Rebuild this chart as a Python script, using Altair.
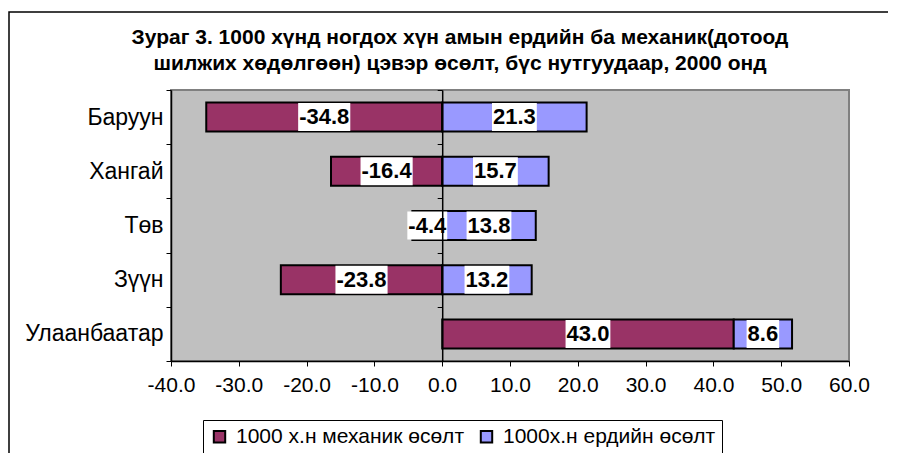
import altair as alt
import pandas as pd

# ---- data ----
regions = ["Баруун", "Хангай", "Төв", "Зүүн", "Улаанбаатар"]
mechanical = [-34.8, -16.4, -4.4, -23.8, 43.0]
natural = [21.3, 15.7, 13.8, 13.2, 8.6]
series_names = ["1000 х.н механик өсөлт", "1000х.н ердийн өсөлт"]
series_colors = ["#993366", "#9999FF"]
x_ticks = [-40, -30, -20, -10, 0, 10, 20, 30, 40, 50, 60]
title_lines = [
    "Зураг 3. 1000 хүнд ногдох хүн амын ердийн ба механик(дотоод",
    "шилжих хөдөлгөөн) цэвэр өсөлт, бүс нутгуудаар, 2000 онд",
]

rows = []
for r, m, n in zip(regions, mechanical, natural):
    rows.append({"region": r, "series": series_names[0], "order": 0, "value": m})
    rows.append({"region": r, "series": series_names[1], "order": 1, "value": n})
df = pd.DataFrame(rows)

W, H = 678, 271
FONT = "Liberation Sans"
LBL = 22  # data label font size
px_per_unit = W / (x_ticks[-1] - x_ticks[0])
zero_offset = -(0 - x_ticks[0]) * px_per_unit

xscale = alt.Scale(domain=[x_ticks[0], x_ticks[-1]], nice=False, zero=False)
yscale = alt.Scale(domain=regions, paddingInner=0, paddingOuter=0)

x_axis = alt.Axis(values=x_ticks, format=".1f", title=None, grid=False,
                  labelFontSize=21, labelFont=FONT, labelColor="black",
                  labelExpr="replace(datum.label, '\u2212', '-')",
                  domainColor="black", domainWidth=1.5, tickColor="black",
                  tickSize=5, labelPadding=8, labelFlush=False)

base = alt.Chart(df).transform_stack(
    stack="value", groupby=["region"], as_=["v0", "v1"],
    sort=[alt.SortField("order", order="ascending")],
).transform_calculate(
    mid="(datum.v0 + datum.v1) / 2",
    label="replace(format(datum.value, '.1f'), '\u2212', '-')",
).transform_calculate(
    tw=f"{LBL}*(0.556*(length(datum.label)-1) + 0.278 - (datum.value < 0 ? 0.223 : 0)) + 2",
).transform_calculate(
    lo=f"datum.mid - datum.tw / (2*{px_per_unit})",
    hi=f"datum.mid + datum.tw / (2*{px_per_unit})",
)

frame = alt.Chart(df).mark_rect(fill="white", fillOpacity=0, stroke="black", strokeWidth=1.5).encode(
    x=alt.value(-162), x2=alt.value(W + 200), y=alt.value(-78), y2=alt.value(H + 250)
).transform_filter("datum.order == 0 && datum.region == 'Баруун'")

bars = base.mark_bar(size=29, stroke="black", strokeWidth=2).encode(
    y=alt.Y("region:N", sort=regions, scale=yscale,
            axis=alt.Axis(title=None, orient="left", labelFontSize=23, labelFont=FONT,
                          labelColor="black", domainColor="black", domainWidth=1.5,
                          tickColor="black", tickSize=5, tickBand="extent", labelPadding=3)),
    x=alt.X("v0:Q", scale=xscale, axis=x_axis),
    x2="v1:Q",
    color=alt.Color("series:N", scale=alt.Scale(domain=series_names, range=series_colors),
                    legend=alt.Legend(title=None, orient="none", legendX=32, legendY=330,
                                      direction="horizontal", fillColor="white",
                                      strokeColor="black", padding=6,
                                      labelFontSize=21, labelFont=FONT, labelColor="black",
                                      labelLimit=400,
                                      symbolType="square", symbolSize=130,
                                      symbolStrokeColor="black", symbolStrokeWidth=2,
                                      symbolOpacity=1, labelOffset=6, columnPadding=12)),
    order=alt.Order("order:Q"),
)

boxes = base.mark_bar(size=28, color="white").encode(
    y=alt.Y("region:N", sort=regions, scale=yscale, axis=None),
    x=alt.X("lo:Q", scale=xscale, axis=x_axis),
    x2="hi:Q",
)

texts = base.mark_text(font=FONT, fontSize=LBL, fontWeight="bold", color="black",
                       baseline="middle", align="center").encode(
    y=alt.Y("region:N", sort=regions, scale=yscale,
            axis=alt.Axis(title=None, orient="left", labels=False, offset=zero_offset,
                          domainColor="black", domainWidth=1.5, tickColor="black",
                          tickSize=5, tickBand="extent", zindex=1)),
    x=alt.X("mid:Q", scale=xscale, axis=x_axis),
    text="label:N",
)

chart = alt.layer(frame, bars, boxes, texts).resolve_axis(y="independent").properties(
    width=W, height=H,
    autosize=alt.AutoSizeParams(type="none"),
    padding={"left": 163, "top": 82, "right": 39, "bottom": 92},
    title=alt.TitleParams(text=title_lines, fontSize=21, font=FONT, fontWeight="bold",
                          anchor="middle", dx=-50, dy=79, offset=16, lineHeight=26, color="black"),
).configure_view(fill="#C0C0C0", stroke="#808080", strokeWidth=2)

chart.save("out.html", embed_options={"renderer": "svg", "actions": False})
